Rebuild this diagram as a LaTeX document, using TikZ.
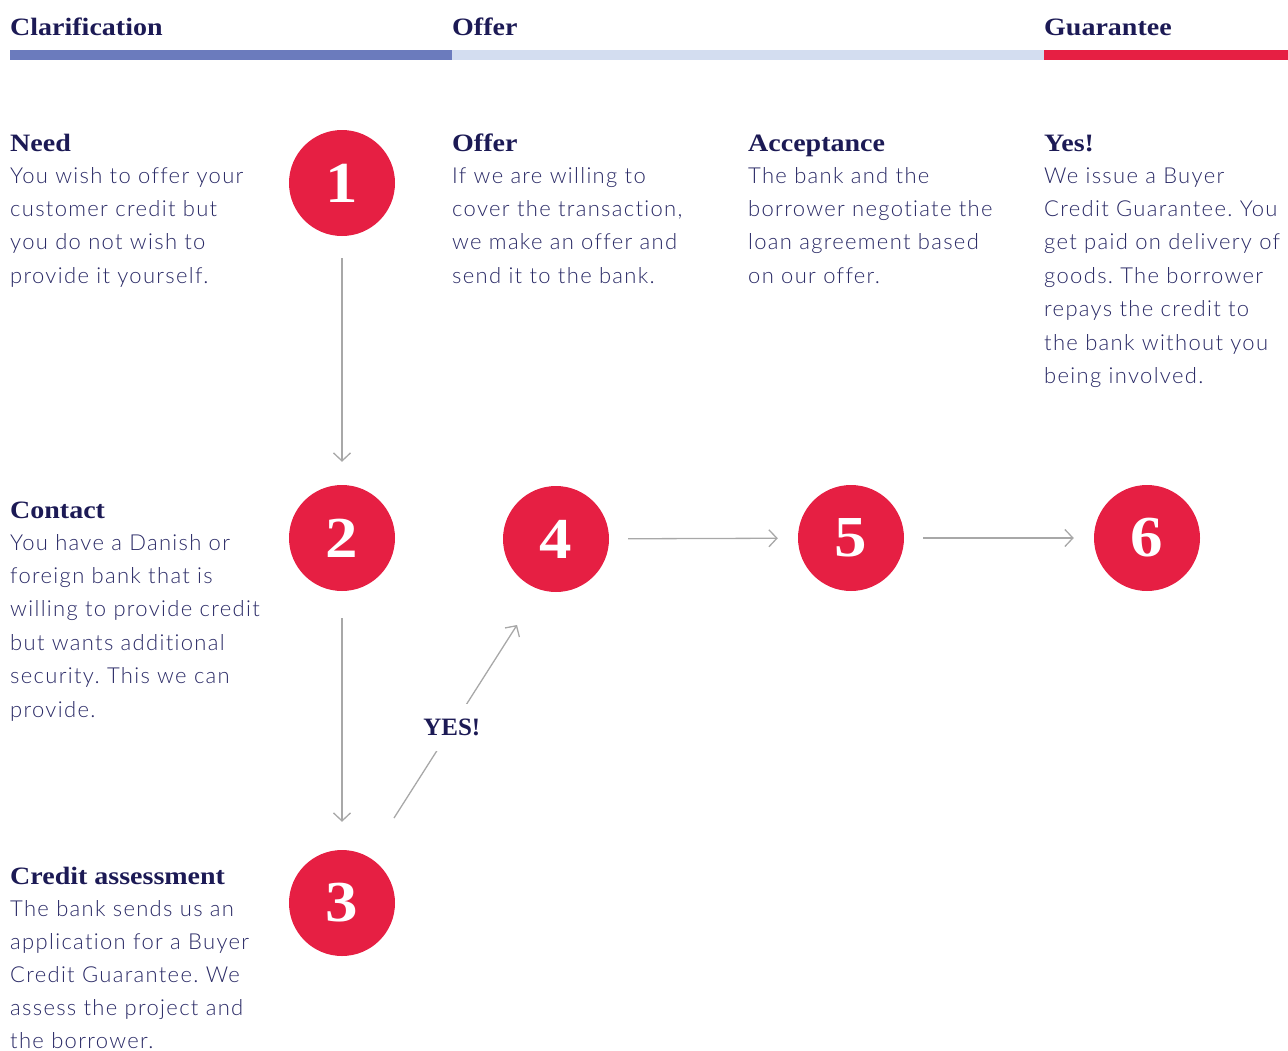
\documentclass[tikz,border=0pt]{standalone}
\usepackage{fontspec}
\usetikzlibrary{arrows.meta}
\newfontfamily\bodyf{Lato Light}[LetterSpace=6,Ligatures=NoCommon]
\newfontfamily\headf{Liberation Serif}[FakeStretch=1.12]
\newfontfamily\yesf{Liberation Serif}
\definecolor{navy}{HTML}{1C1A55}
\definecolor{bodyc}{HTML}{2A2A66}
\definecolor{brandred}{HTML}{E61F43}
\definecolor{barblue}{HTML}{6B7BBD}
\definecolor{barlight}{HTML}{D3DDF0}
\definecolor{conng}{HTML}{A8A8A8}
\frenchspacing
\tikzset{
  head/.style={anchor=base west, inner sep=0, text=navy, font=\headf\bfseries\fontsize{25}{30}\selectfont},
  bodyline/.style={anchor=base west, inner sep=0, text=bodyc, font=\bodyf\fontsize{22}{26}\selectfont},
  numcircle/.style={circle, fill=brandred, minimum size=106pt, inner sep=0, text=white, font=\headf\bfseries\fontsize{58}{60}\selectfont},
  conn/.style={draw=conng, line width=1.3pt, -{Straight Barb[length=8pt,width=17pt]}},
  yeslabel/.style={fill=white, inner xsep=1pt, inner ysep=15pt, text=navy, font=\yesf\bfseries\fontsize{25}{30}\selectfont},
}
\begin{document}
\begin{tikzpicture}[x=1pt,y=-1pt]
\useasboundingbox (0,0) rectangle (1288,1050);
% phase bars
\fill[barblue] (10,50) rectangle (452,60);
\fill[barlight] (452,50) rectangle (1044,60);
\fill[brandred] (1044,50) rectangle (1288,60);
\node[head] (ph1) at (10,35) {Clarification};
\node[head] (ph2) at (452,35) {Offer};
\node[head] (ph3) at (1044,35) {Guarantee};
% circles
\node[numcircle] (c1) at (342,183) {1};
\node[numcircle] (c2) at (342,538) {2};
\node[numcircle] (c3) at (342,903) {3};
\node[numcircle] (c4) at (556,539) {4};
\node[numcircle] (c5) at (851,538) {5};
\node[numcircle] (c6) at (1147,538) {6};
% texts
\node[head] (h1) at (10,151) {Need};
\foreach \t [count=\i from 0] in {You wish to offer your, customer credit but, you do not wish to, provide it yourself.}
  \node[bodyline] (t1-\i) at (10,183+33.4*\i) {\t};
\node[head] (h4) at (452,151) {Offer};
\foreach \t [count=\i from 0] in {If we are willing to, {cover the transaction,}, we make an offer and, send it to the bank.}
  \node[bodyline] (t4-\i) at (452,183+33.4*\i) {\t};
\node[head] (h5) at (748,151) {Acceptance};
\foreach \t [count=\i from 0] in {The bank and the, borrower negotiate the, loan agreement based, on our offer.}
  \node[bodyline] (t5-\i) at (748,183+33.4*\i) {\t};
\node[head] (h6) at (1044,151) {Yes!};
\foreach \t [count=\i from 0] in {We issue a Buyer, Credit Guarantee. You, get paid on delivery of, goods. The borrower, repays the credit to, the bank without you, being involved.}
  \node[bodyline] (t6-\i) at (1044,183+33.4*\i) {\t};
\node[head] (h2) at (10,518) {Contact};
\foreach \t [count=\i from 0] in {You have a Danish or, foreign bank that is, willing to provide credit, but wants additional, security. This we can, provide.}
  \node[bodyline] (t2-\i) at (10,550+33.4*\i) {\t};
\node[head] (h3) at (10,884) {Credit assessment};
\foreach \t [count=\i from 0] in {The bank sends us an, application for a Buyer, Credit Guarantee. We, assess the project and, the borrower.}
  \node[bodyline] (t3-\i) at (10,916+33*\i) {\t};
% connectors
\draw[conn, shorten <=22pt, shorten >=23pt] (c1) -- (c2);
\draw[conn, shorten <=27pt, shorten >=28pt] (c2) -- (c3);
\draw[conn, shorten <=19pt, shorten >=20pt] (c4) -- (c5);
\draw[conn, shorten <=19pt, shorten >=20pt] (c5) -- (c6);
\coordinate (ys) at (394,818);
\coordinate (ye) at (517,625);
\draw[conn] (ys) -- node[pos=0.47, yeslabel] (yes) {YES!} (ye);
\end{tikzpicture}
\end{document}
